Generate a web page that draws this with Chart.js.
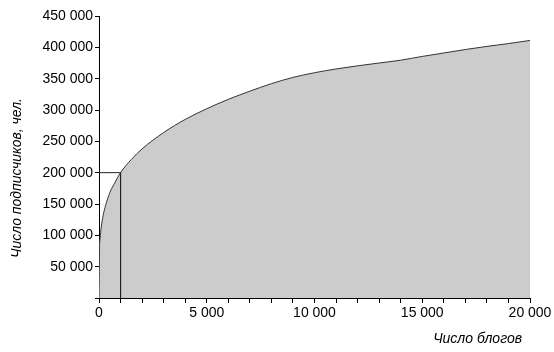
<!DOCTYPE html>
<html>
<head>
<meta charset="utf-8">
<script src="https://cdn.jsdelivr.net/npm/chart.js@4"></script>
<style>
  html, body { margin: 0; padding: 0; background: #fff; }
  #wrap { width: 554px; height: 352px; }
</style>
</head>
<body>
<div id="wrap"><canvas id="myChart" width="554" height="352"></canvas></div>
<script>
// число блогов (x) и число подписчиков (y)
const blogs = [0, 20, 50, 100, 200, 300, 500, 750, 1000, 1500, 2000, 3000, 4000, 5000, 6000, 7000, 8000, 9000, 10000, 11000, 12000, 13000, 14000, 15000, 16000, 17000, 18000, 19000, 20000];
const subscribers = [0, 75000, 95000, 112000, 133000, 147000, 168000, 185000, 200000, 221000, 238000, 264000, 285000, 302000, 317000, 330000, 342000, 352000, 359500, 365500, 370500, 375000, 379500, 385500, 391000, 396500, 401500, 406000, 411000];

// опорная линия: 1000 блогов -> 200 000 подписчиков
const markBlogs = [0, 1000, 1000];
const markSubs = [200000, 200000, 0];

const xTicks = { min: 0, max: 20000, step: 1000, labelEvery: 5000 };
const yTicks = { min: 0, max: 450000, step: 50000 };

const xTitle = 'Число блогов';
const yTitle = 'Число подписчиков, чел.';

const fmt = v => String(v).replace(/\B(?=(\d{3})+(?!\d))/g, ' ');

// подписи осей рисуем сами, чтобы поставить их как в оригинале
const axisTitles = {
  id: 'axisTitles',
  afterDraw(chart) {
    const c = chart.ctx;
    const area = chart.chartArea;
    c.save();
    c.fillStyle = '#000';
    c.font = "italic 14px 'Liberation Sans', Arial, sans-serif";
    c.textBaseline = 'middle';
    c.textAlign = 'right';
    c.fillText(xTitle, area.right - 8, 339);
    c.translate(17, 178);
    c.rotate(-Math.PI / 2);
    c.textAlign = 'center';
    c.fillText(yTitle, 0, 0);
    c.restore();
  }
};

document.addEventListener('DOMContentLoaded', () => {
  const ctx = document.getElementById('myChart').getContext('2d');
  const font = { family: "'Liberation Sans', Arial, sans-serif", size: 14 };

  new Chart(ctx, {
    type: 'line',
    data: {
      datasets: [
        {
          data: markBlogs.map((x, i) => ({ x, y: markSubs[i] })),
          borderColor: '#222',
          borderWidth: 1,
          pointRadius: 0,
          fill: false,
          tension: 0
        },
        {
          data: blogs.map((x, i) => ({ x, y: subscribers[i] })),
          borderColor: '#333',
          borderWidth: 1,
          backgroundColor: '#cccccc',
          pointRadius: 0,
          fill: 'origin',
          cubicInterpolationMode: 'monotone'
        },
        {
          // правый край области
          data: [{ x: 20000, y: 0 }, { x: 20000, y: subscribers[subscribers.length - 1] }],
          borderColor: '#000',
          borderWidth: 1,
          pointRadius: 0,
          fill: false
        }
      ]
    },
    options: {
      responsive: false,
      animation: false,
      layout: { padding: { left: 0, right: 24, top: 16, bottom: 0 } },
      plugins: { legend: { display: false }, tooltip: { enabled: false } },
      scales: {
        x: {
          type: 'linear',
          min: xTicks.min,
          max: xTicks.max,
          afterFit: s => { s.height = 54; },
          border: { color: '#000', width: 1 },
          grid: { drawOnChartArea: false, color: '#000', tickLength: 5 },
          ticks: {
            stepSize: xTicks.step,
            autoSkip: false,
            maxRotation: 0,
            padding: 2,
            color: '#000',
            font,
            callback: v => (v % xTicks.labelEvery === 0 ? fmt(v) : '')
          }
        },
        y: {
          min: yTicks.min,
          max: yTicks.max,
          afterFit: s => { s.width = 99; },
          border: { color: '#000', width: 1 },
          grid: { drawOnChartArea: false, color: '#000', tickLength: 4 },
          ticks: {
            stepSize: yTicks.step,
            padding: 2,
            color: '#000',
            font,
            callback: v => (v === 0 ? '' : fmt(v))
          }
        }
      }
    },
    plugins: [axisTitles]
  });
});
</script>
</body>
</html>
